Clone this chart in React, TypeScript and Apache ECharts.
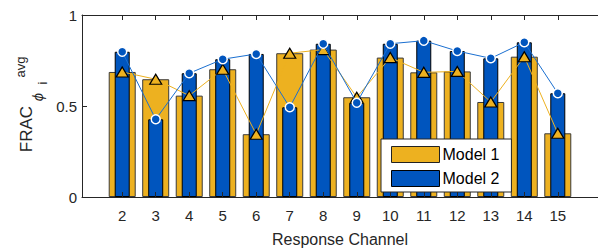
import React, { useEffect, useRef } from "react";
import * as echarts from "echarts";

const channels = [2, 3, 4, 5, 6, 7, 8, 9, 10, 11, 12, 13, 14, 15];
const model1 = [0.687, 0.647, 0.557, 0.702, 0.345, 0.79, 0.81, 0.548, 0.766, 0.685, 0.69, 0.522, 0.771, 0.35];
const model2 = [0.798, 0.427, 0.68, 0.757, 0.786, 0.493, 0.842, 0.518, 0.842, 0.859, 0.802, 0.762, 0.85, 0.57];
const yTicks = [0, 0.5, 1];

const ORANGE = "#EDB120";
const BLUE = "#0055BE";
const LINE_BLUE = "#1A6FD0";
const INK = "#262626";
const FONT = "Liberation Sans";

export default function App() {
  const ref = useRef<HTMLDivElement>(null);
  useEffect(() => {
    document.body.style.margin = "0";
    const chart = echarts.init(ref.current!, null, { renderer: "svg" });
    const pts1 = channels.map((c, i) => [c, model1[i]]);
    const pts2 = channels.map((c, i) => [c, model2[i]]);
    const xCommon = {
      type: "value" as const,
      min: 0.8,
      max: 16.2,
      splitLine: { show: false },
      axisLine: { show: true, lineStyle: { color: INK, width: 1 } },
      axisTick: { show: true, inside: true, length: 5, customValues: channels, lineStyle: { color: INK } },
      z: 5,
    };
    const txt = (text: string, x: number, y: number, fontSize: number, italic = false) => ({
      type: "text",
      x,
      y,
      rotation: Math.PI / 2,
      style: {
        text,
        fontSize,
        fontStyle: italic ? "italic" : "normal",
        fontFamily: FONT,
        fill: INK,
        align: "center",
        verticalAlign: "middle",
        textAlign: "center",
        textVerticalAlign: "middle",
      },
    });
    chart.setOption({
      animation: false,
      grid: { left: 82, top: 15, width: 521, height: 182 },
      xAxis: [
        {
          ...xCommon,
          position: "bottom",
          axisLabel: { customValues: channels, margin: 11, fontSize: 15, color: INK, fontFamily: FONT },
          name: "Response Channel",
          nameLocation: "middle",
          nameGap: 34,
          nameTextStyle: { fontSize: 16, color: INK, fontFamily: FONT },
        },
        {
          ...xCommon,
          position: "top",
          axisLabel: { show: false },
        },
      ],
      yAxis: {
        type: "value",
        min: 0,
        max: 1,
        interval: 0.5,
        splitLine: { show: false },
        axisLine: { show: true, lineStyle: { color: INK, width: 1 } },
        axisTick: { show: true, inside: true, length: 5, customValues: yTicks, lineStyle: { color: INK } },
        axisLabel: { margin: 5, fontSize: 15, color: INK, fontFamily: FONT, customValues: yTicks, formatter: (v: number) => String(v) },
        z: 5,
      },
      legend: {
        orient: "vertical",
        left: 381,
        top: 139,
        padding: [7, 12, 5, 10],
        itemWidth: 48,
        itemHeight: 16,
        itemGap: 7,
        backgroundColor: "#ffffff",
        borderColor: INK,
        borderWidth: 1,
        borderRadius: 0,
        textStyle: { fontSize: 16, color: "#000", fontFamily: FONT, padding: [0, 0, 0, -2] },
        data: [
          { name: "Model 1", icon: "rect", itemStyle: { color: ORANGE, borderColor: "#222", borderWidth: 1 } },
          { name: "Model 2", icon: "rect", itemStyle: { color: BLUE, borderColor: "#000", borderWidth: 1 } },
        ],
      },
      series: [
        {
          name: "Model 1",
          type: "bar",
          xAxisIndex: 0,
          data: pts1,
          barWidth: 27,
          itemStyle: { color: ORANGE, borderColor: "#3a3a3a", borderWidth: 1 },
          z: 2,
        },
        {
          name: "Model 2",
          type: "bar",
          xAxisIndex: 1,
          data: pts2,
          barWidth: 15,
          itemStyle: { color: BLUE, borderColor: "#000", borderWidth: 1 },
          z: 3,
        },
        {
          name: "Model 1 trend",
          type: "line",
          xAxisIndex: 0,
          data: pts1,
          symbol: "triangle",
          symbolSize: [12, 10],
          lineStyle: { color: ORANGE, width: 1 },
          itemStyle: { color: ORANGE, borderColor: "#000", borderWidth: 1.2 },
          z: 6,
        },
        {
          name: "Model 2 trend",
          type: "line",
          xAxisIndex: 0,
          data: pts2,
          symbol: "circle",
          symbolSize: 9,
          lineStyle: { color: LINE_BLUE, width: 1 },
          itemStyle: { color: BLUE, borderColor: "#ffffff", borderWidth: 1.5 },
          z: 7,
        },
      ],
      graphic: [
        txt("FRAC", 26, 129, 17),
        txt("ϕ", 37, 97, 15, true),
        txt("avg", 20, 67, 13),
        txt("i", 42, 83, 13),
      ],
    });
    return () => chart.dispose();
  }, []);
  return <div ref={ref} style={{ width: 598, height: 252 }} />;
}
